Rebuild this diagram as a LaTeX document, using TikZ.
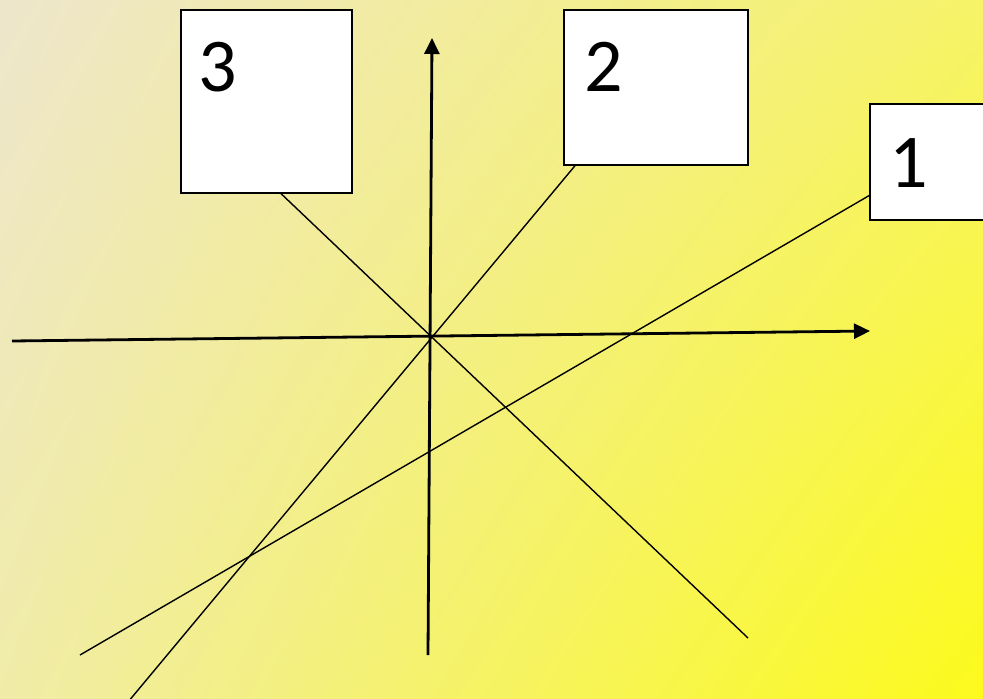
\documentclass[tikz,border=0pt]{standalone}
\usepackage{fontspec}
\setmainfont{Carlito}
\usetikzlibrary{arrows.meta,shadings}
\definecolor{bgtl}{RGB}{238,230,204}
\definecolor{bgtr}{RGB}{246,243,104}
\definecolor{bgbl}{RGB}{240,236,168}
\definecolor{bgbr}{RGB}{252,250,28}
\begin{document}
\begin{tikzpicture}[x=1pt,y=-1pt,
    box/.style={draw,fill=white,line width=1.4pt,inner sep=0pt},
    num/.style={anchor=base west,inner sep=0pt,font=\fontsize{76}{80}\selectfont},
    axis/.style={line width=2.8pt,-{Triangle[length=16pt,width=15pt]}},
    ray/.style={line width=1.4pt}]
        \useasboundingbox (0,0) rectangle (983,699);
        \clip (0,0) rectangle (983,699);
        \shade[upper left=bgtl,upper right=bgtr,lower left=bgbl,lower right=bgbr] (0,0) rectangle (983,699);
        % boxes
        \node[box,minimum width=171pt,minimum height=183pt] (b3) at (266.5,101.5) {};
        \node[box,minimum width=184pt,minimum height=155pt] (b2) at (656,87.5) {};
        \node[box,minimum width=130pt,minimum height=116pt] (b1) at (935,162) {};
        \node[num] (t3) at ([shift={(18,82)}]b3.north west) {3};
        \node[num] (t2) at ([shift={(21,82)}]b2.north west) {2};
        \node[num] (t1) at ([shift={(20,84)}]b1.north west) {1};
        % free ends
        \coordinate (xl) at (12,341);
        \coordinate (xr) at (870,331);
        \coordinate (yb) at (428,655);
        \coordinate (yt) at (432,38);
        \coordinate (e1) at (80,655);
        \coordinate (e2) at (128,702);
        \coordinate (e3) at (748,638);
        % axes
        \draw[axis] (xl) -- (xr);
        \draw[axis] (yb) -- (yt);
        % rays
        \draw[ray] (e1) -- (b1.-153.1);
        \draw[ray] (e2) -- (b2.-136.3);
        \draw[ray] (b3.-81.6) -- (e3);
\end{tikzpicture}
\end{document}
